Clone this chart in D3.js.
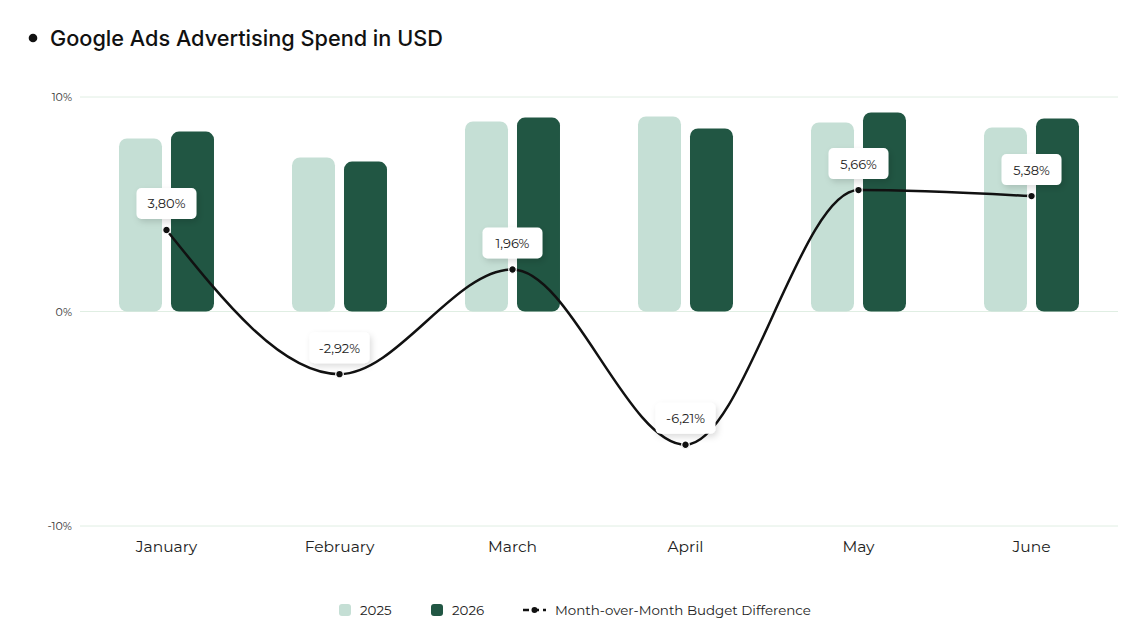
<!DOCTYPE html>
<html><head><meta charset="utf-8">
<script src="https://cdn.jsdelivr.net/npm/d3@7/dist/d3.min.js"></script>
<style>
html,body{margin:0;padding:0;background:#fff;}
svg{display:block;}
</style></head>
<body>
<svg id="chart" width="1148" height="623"></svg>
<script>
const months = ["January","February","March","April","May","June"];
const spend2025 = [8.07, 7.18, 8.86, 9.09, 8.81, 8.58];
const spend2026 = [8.39, 6.99, 9.04, 8.53, 9.28, 9.00];
const momDiff = [3.80, -2.92, 1.96, -6.21, 5.66, 5.38];
const yTicks = [-10, 0, 10];
const seriesNames = ["2025","2026"];
const lineName = "Month-over-Month Budget Difference";

(function(){
const colors = {"2025":"#c5dfd5","2026":"#215643"};
const svg = d3.select("#chart");
const mLeft = 80, mRight = 1118, mTop = 97, mBottom = 526;
const labelFont = "Montserrat, 'Open Sans', 'Noto Sans', sans-serif";

const defs = svg.append("defs");
const f = defs.append("filter").attr("id","shadow").attr("x","-30%").attr("y","-40%").attr("width","160%").attr("height","190%");
f.append("feDropShadow").attr("dx",2).attr("dy",3).attr("stdDeviation",3).attr("flood-color","#000").attr("flood-opacity",0.14);

// title
svg.append("circle").attr("cx",33).attr("cy",38).attr("r",4.3).attr("fill","#111");
svg.append("text").attr("x",50).attr("y",45.5).text("Google Ads Advertising Spend in USD")
  .attr("font-family","Inter, 'Noto Sans', sans-serif").attr("font-weight",500).attr("font-size",21.7).attr("fill","#111");

const y = d3.scaleLinear().domain([-10,10]).range([mBottom, mTop]);
const x0 = d3.scaleBand().domain(months).range([mLeft,mRight]).paddingInner(0.451).paddingOuter(0.2255);
const x1 = d3.scaleBand().domain(seriesNames).range([0, x0.bandwidth()]).paddingInner(0.173);
const xc = m => x0(m) + x0.bandwidth()/2;

// grid
svg.append("g").selectAll("line").data(yTicks).join("line")
  .attr("x1",mLeft).attr("x2",mRight).attr("y1",d=>y(d)).attr("y2",d=>y(d))
  .attr("stroke","#e0eee3").attr("stroke-width",1);
svg.append("g").selectAll("text").data(yTicks).join("text")
  .attr("x",72).attr("y",d=>y(d)+4).attr("text-anchor","end")
  .attr("font-family",labelFont).attr("font-size",11).attr("fill","#333")
  .text(d=>d+"%");

// bars
const data = months.map((m,i)=>({m, vals:[{k:"2025",v:spend2025[i]},{k:"2026",v:spend2026[i]}]}));
svg.append("g").selectAll("g").data(data).join("g")
  .attr("transform",d=>`translate(${x0(d.m)},0)`)
  .selectAll("rect").data(d=>d.vals).join("rect")
  .attr("x",d=>x1(d.k)).attr("width",x1.bandwidth())
  .attr("y",d=>y(d.v)).attr("height",d=>y(0)-y(d.v))
  .attr("rx",8).attr("fill",d=>colors[d.k]);

// x labels
svg.append("g").selectAll("text").data(months).join("text")
  .attr("x",d=>xc(d)).attr("y",552).attr("text-anchor","middle")
  .attr("font-family",labelFont).attr("font-size",15.5).attr("fill","#222")
  .text(d=>d);

// line
const pts = months.map((m,i)=>({m, v:momDiff[i]}));
const line = d3.line().x(d=>xc(d.m)).y(d=>y(d.v)).curve(d3.curveMonotoneX);
svg.append("path").datum(pts).attr("d",line).attr("fill","none").attr("stroke","#111").attr("stroke-width",2.5);

// labels
const fmt = v => v.toFixed(2).replace(".",",") + "%";
const lg = svg.append("g").selectAll("g").data(pts).join("g")
  .attr("transform",d=>`translate(${xc(d.m)},${y(d.v)})`);
lg.append("rect").attr("x",-30).attr("y",-42).attr("width",60).attr("height",31).attr("rx",5)
  .attr("fill","#fff").attr("filter","url(#shadow)");
lg.append("text").attr("x",0).attr("y",-21.5).attr("text-anchor","middle")
  .attr("font-family",labelFont).attr("font-size",13).attr("fill","#222").text(d=>fmt(d.v));
lg.append("circle").attr("r",3.8).attr("fill","#111").attr("stroke","#fff").attr("stroke-width",1.2);

// legend
const legY = 610;
const leg = svg.append("g").attr("font-family",labelFont).attr("font-size",13.4).attr("fill","#222");
const legItems = [{k:"2025",x:339},{k:"2026",x:431}];
legItems.forEach(it=>{
  leg.append("rect").attr("x",it.x).attr("y",legY-6).attr("width",12).attr("height",12).attr("rx",3).attr("fill",colors[it.k]);
  leg.append("text").attr("x",it.x+21).attr("y",legY+5).text(it.k);
});
leg.append("line").attr("x1",523).attr("x2",546).attr("y1",legY).attr("y2",legY).attr("stroke","#111").attr("stroke-width",2.5).attr("stroke-dasharray","6,4");
leg.append("circle").attr("cx",534.5).attr("cy",legY).attr("r",3).attr("fill","#111");
leg.append("text").attr("x",555).attr("y",legY+5).text(lineName);
})();
</script>
</body></html>
